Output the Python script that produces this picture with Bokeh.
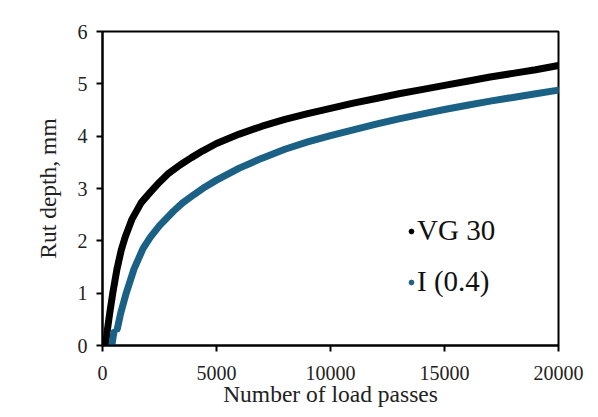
import numpy as np
from bokeh.plotting import figure
from bokeh.models import Range1d, FixedTicker, Legend, LegendItem
from bokeh.embed import file_html
from bokeh.resources import INLINE

vg30_n = [130, 200, 300, 450, 630, 820, 1000, 1300, 1700, 2100, 2500, 2900, 3400, 3900, 4400, 5000,
          6000, 7000, 8000, 9000, 10000, 11000, 12000, 13000, 14000, 15000,
          16000, 17000, 18000, 19000, 20000]
vg30_rut = [0.0, 0.25, 0.57, 1.0, 1.45, 1.82, 2.08, 2.42, 2.73, 2.93, 3.12, 3.29, 3.45, 3.59, 3.72, 3.86,
            4.04, 4.19, 4.32, 4.43, 4.53, 4.63, 4.72, 4.81, 4.89, 4.97,
            5.05, 5.13, 5.20, 5.27, 5.35]

i04_n = [410, 450, 500, 560, 650, 800, 1040, 1380, 1775, 2100, 2500, 3100, 3500, 4000, 4500, 5000,
         6000, 7000, 8000, 9000, 10000, 11000, 12000, 13000, 14000, 15000,
         16000, 17000, 18000, 19000, 20000]
i04_rut = [0.0, 0.12, 0.25, float("nan"), 0.32, 0.62, 1.0, 1.46, 1.85, 2.07, 2.29, 2.56, 2.72, 2.88, 3.03, 3.16,
           3.39, 3.58, 3.75, 3.89, 4.01, 4.12, 4.23, 4.33, 4.42, 4.51,
           4.59, 4.67, 4.74, 4.81, 4.88]

x_ticks = [0, 5000, 10000, 15000, 20000]
y_ticks = [0, 1, 2, 3, 4, 5, 6]

BLUE = "#1b6185"
FONT = "Liberation Serif"

p = figure(width=590, height=409, output_backend="svg", toolbar_location=None,
           x_range=Range1d(0, 20000), y_range=Range1d(0, 6),
           min_border_left=102, min_border_top=31, min_border_right=32,
           min_border_bottom=62)

p.xgrid.visible = False
p.ygrid.visible = False
p.outline_line_color = "black"
p.outline_line_width = 2
p.background_fill_color = "white"
p.border_fill_color = "white"

for ax in (p.xaxis[0], p.yaxis[0]):
    ax.axis_line_width = 2
    ax.axis_line_color = "black"
    ax.major_tick_line_width = 2
    ax.major_tick_line_color = "black"
    ax.major_tick_in = 0
    ax.major_tick_out = 6
    ax.minor_tick_line_color = None
    ax.major_label_text_font = FONT
    ax.major_label_text_font_size = "20px"
    ax.major_label_text_color = "#222222"
    ax.axis_label_text_font = FONT
    ax.axis_label_text_font_size = "23.5px"
    ax.axis_label_text_font_style = "normal"
    ax.axis_label_text_color = "#222222"

p.xaxis[0].ticker = FixedTicker(ticks=x_ticks)
p.yaxis[0].ticker = FixedTicker(ticks=y_ticks)
p.xaxis[0].axis_label = "Number of load passes"
p.yaxis[0].axis_label = "Rut depth, mm"
p.xaxis[0].major_label_standoff = 14
p.xaxis[0].axis_label_standoff = -2
p.yaxis[0].major_label_standoff = 9
p.yaxis[0].axis_label_standoff = 14

s1 = p.scatter(vg30_n, vg30_rut, size=5, color="black")
s2 = p.scatter(i04_n, i04_rut, size=5, color=BLUE)
p.line(vg30_n, vg30_rut, line_width=7, color="black", line_cap="round", line_join="round")
p.line(i04_n, i04_rut, line_width=7, color=BLUE, line_cap="round", line_join="round")

legend = Legend(items=[LegendItem(label="VG 30", renderers=[s1]),
                       LegendItem(label="I (0.4)", renderers=[s2])],
                location=(303, 47), border_line_color=None, background_fill_alpha=0,
                padding=0, margin=0, spacing=18, glyph_width=12, glyph_height=30,
                label_height=30, label_standoff=0,
                label_text_font=FONT, label_text_font_size="29px",
                label_text_color="#111111")
p.add_layout(legend)

open("out.html", "w").write(file_html(p, INLINE))
